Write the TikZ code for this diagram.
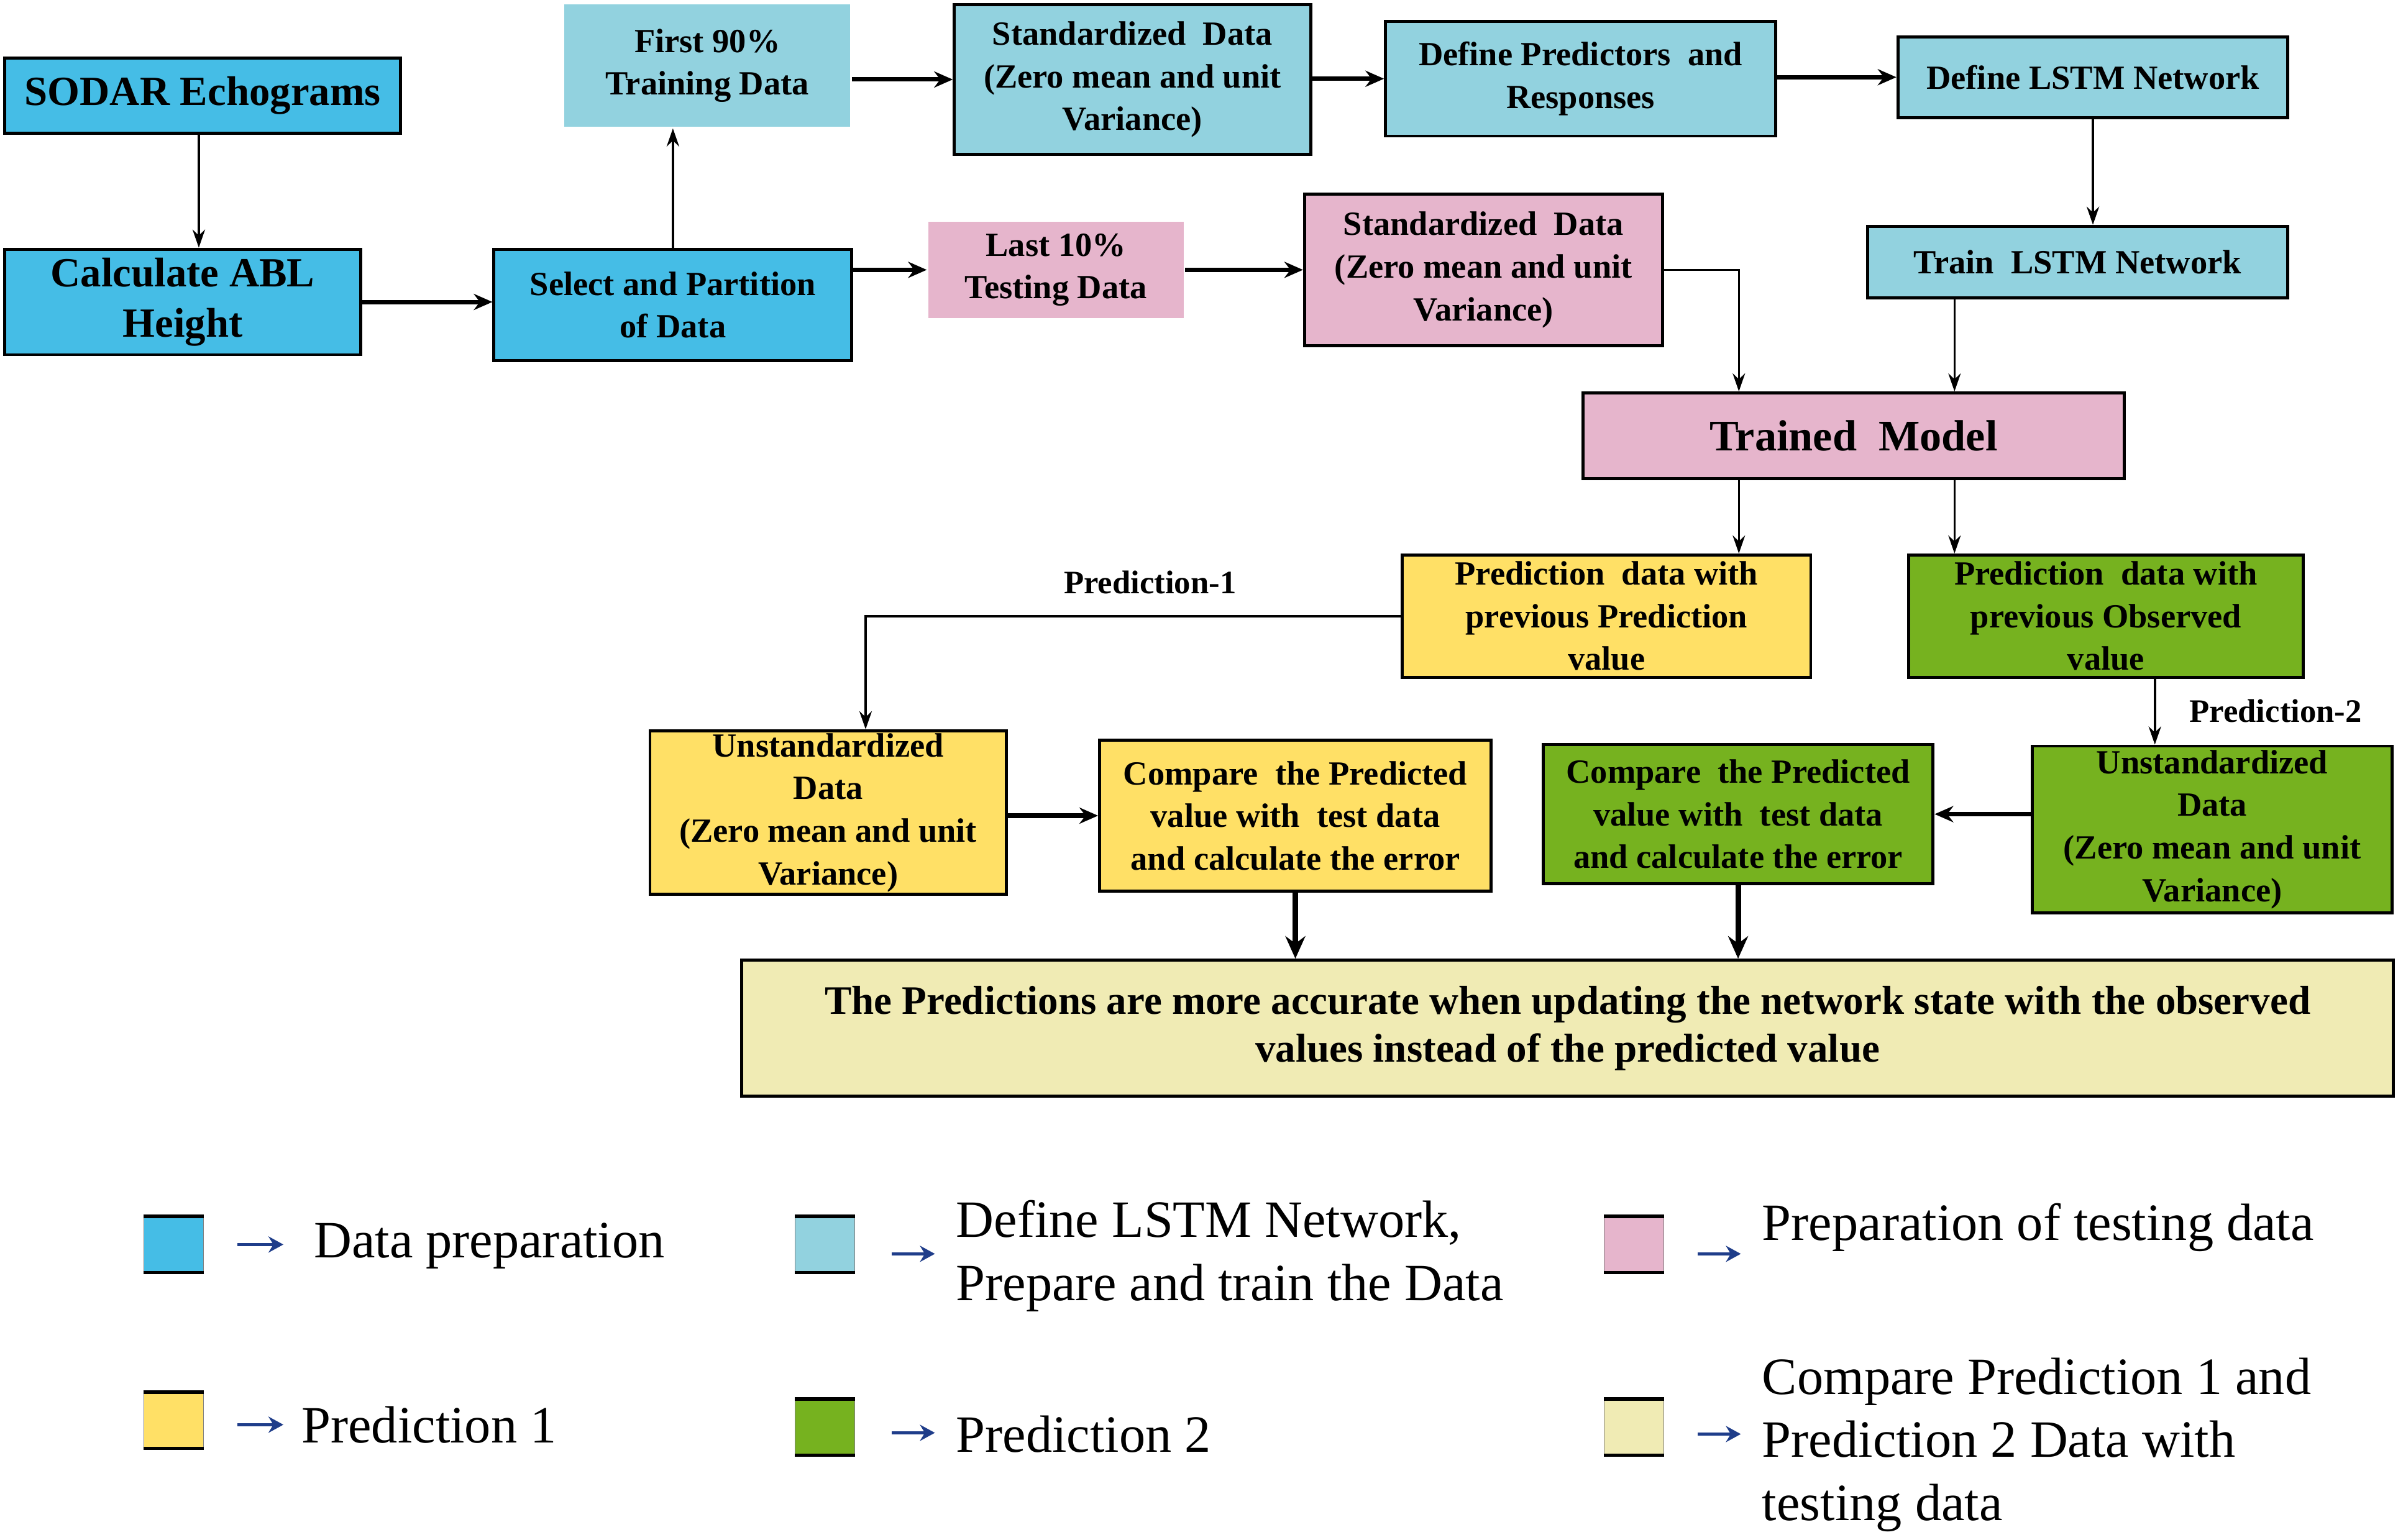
\documentclass[tikz,border=0pt]{standalone}
\usepackage{fontspec}
\setmainfont{Liberation Serif}
\usetikzlibrary{arrows.meta,calc}
\definecolor{cblue}{HTML}{45BDE6}
\definecolor{clblue}{HTML}{92D2DF}
\definecolor{cpink}{HTML}{E6B5CC}
\definecolor{cyel}{HTML}{FFE066}
\definecolor{cgreen}{HTML}{76B21F}
\definecolor{cfin}{HTML}{F0EBB4}
\definecolor{carr}{HTML}{1F3D8A}
\newcommand\bx[7]{\node[box,#6,minimum width={(#4-#2)*0.2461mm},minimum height={(#5-#3)*0.2461mm}] (#1) at ({(#2+#4)/2},{(#3+#5)/2}) {#7};}
\begin{document}
\begin{tikzpicture}[x=0.2461mm,y=-0.2461mm,
  box/.style={draw=black, line width=1.4pt, inner sep=0pt, align=center,
    font=\bfseries\fontsize{15.5}{19.5}\selectfont},
  nobox/.style={draw=none},
  big/.style={font=\bfseries\fontsize{19}{23}\selectfont},
  conn/.style={line width=1.2pt, -{Stealth[length=2.9mm,width=2mm]}},
  thickconn/.style={line width=2.6pt, -{Stealth[length=3.6mm,width=3.2mm]}},
  medconn/.style={line width=2pt, -{Stealth[length=3mm,width=2.6mm]}},
  lbl/.style={font=\bfseries\fontsize{15}{18}\selectfont, inner sep=0pt},
  swatch/.style={draw=gray, line width=0.4pt, minimum width=9.6mm, minimum height=8.9mm, inner sep=0pt},
  legarr/.style={draw=carr, line width=1.5pt, -{Stealth[length=2.4mm,width=2.6mm]}},
  legtxt/.style={anchor=west, inner sep=0pt, align=left, font=\fontsize{24}{29}\selectfont}
]
\useasboundingbox (0,0) rectangle (1568,1007);
\fill[white] (0,0) rectangle (1568,1007);

% boxes
\bx{sodar}{3}{38}{262}{87}{fill=cblue,big}{SODAR Echograms}
\bx{calc}{3}{163}{236}{232}{fill=cblue,big}{Calculate ABL\\Height}
\bx{select}{323}{163}{557}{236}{fill=cblue}{Select and Partition\\of Data}
\bx{first}{369}{3}{556}{83}{fill=clblue,nobox}{First 90\%\\Training Data}
\bx{stdb}{624}{3}{857}{101}{fill=clblue}{Standardized \ Data\\(Zero mean and unit\\Variance)}
\bx{defp}{906}{14}{1161}{89}{fill=clblue}{Define Predictors \ and\\Responses}
\bx{lstm}{1241}{24}{1496}{77}{fill=clblue}{Define LSTM Network}
\bx{train}{1221}{148}{1496}{195}{fill=clblue}{Train \ LSTM Network}
\bx{last}{607}{145}{774}{208}{fill=cpink,nobox}{Last 10\%\\Testing Data}
\bx{stdp}{853}{127}{1087}{226}{fill=cpink}{Standardized \ Data\\(Zero mean and unit\\Variance)}
\bx{trained}{1035}{257}{1389}{313}{fill=cpink,font=\bfseries\fontsize{20}{24}\selectfont}{Trained \ Model}
\bx{pred1}{917}{363}{1184}{443}{fill=cyel}{Prediction \ data with\\previous Prediction\\value}
\bx{pred2}{1248}{363}{1506}{443}{fill=cgreen}{Prediction \ data with\\previous Observed\\value}
\bx{unsy}{425}{478}{658}{585}{fill=cyel}{Unstandardized\\Data\\(Zero mean and unit\\Variance)}
\bx{cmpy}{719}{484}{975}{583}{fill=cyel}{Compare \ the Predicted\\value with \ test data\\and calculate the error}
\bx{cmpg}{1009}{487}{1264}{578}{fill=cgreen}{Compare \ the Predicted\\value with \ test data\\and calculate the error}
\bx{unsg}{1329}{488}{1564}{597}{fill=cgreen}{Unstandardized\\Data\\(Zero mean and unit\\Variance)}
\bx{final}{485}{628}{1565}{717}{fill=cfin,font=\bfseries\fontsize{18.5}{22}\selectfont}{The Predictions are more accurate when updating the network state with the observed\\values instead of the predicted value}

% labels
\node[lbl] (p1lab) at (752,381) {Prediction-1};
\node[lbl] (p2lab) at (1488,465) {Prediction-2};

% helper coordinates
\coordinate (sdS) at ($(sodar.south west)+(128,0)$);
\coordinate (tmA) at ($(trained.north west)+(103,0)$);
\coordinate (tmB) at ($(trained.north west)+(244,0)$);
\coordinate (tmC) at ($(trained.south west)+(103,0)$);
\coordinate (tmD) at ($(trained.south west)+(244,0)$);
\coordinate (uyN) at ($(unsy.north west)+(142,0)$);
\coordinate (p2S) at ($(pred2.south west)+(162,0)$);

% connectors
\draw[conn] (sdS) -- (sdS |- calc.north);
\draw[medconn] (calc.east) -- (calc.east -| select.west);
\draw[conn] (select.north) -- (select.north |- first.south);
\draw[medconn] (stdb.west -| first.east) -- (stdb.west);
\draw[medconn] (defp.west -| stdb.east) -- (defp.west);
\draw[medconn] (lstm.west -| defp.east) -- (lstm.west);
\draw[conn] (lstm.south) -- (lstm.south |- train.north);
\draw[medconn] (last.west -| select.east) -- (last.west);
\draw[medconn] (last.east) -- (last.east -| stdp.west);
\draw[conn, line width=0.9pt] (stdp.east) -| (tmA);
\draw[conn, line width=0.9pt] (tmB |- train.south) -- (tmB);
\draw[conn, line width=0.9pt] (tmC) -- (tmC |- pred1.north);
\draw[conn, line width=0.9pt] (tmD) -- (tmD |- pred2.north);
\draw[conn] (pred1.west) -| (uyN);
\draw[conn] (p2S) -- (p2S |- unsg.north);
\draw[medconn] (cmpy.west -| unsy.east) -- (cmpy.west);
\draw[medconn] (cmpg.east -| unsg.west) -- (cmpg.east);
\draw[thickconn] (cmpy.south) -- (cmpy.south |- final.north);
\draw[thickconn] (cmpg.south) -- (cmpg.south |- final.north);

% legend
\foreach \n/\c/\x/\y in {s1/cblue/113.5/814, s2/clblue/539.5/814, s3/cpink/1068.5/814,
                        s4/cyel/113.5/929, s5/cgreen/539.5/933.5, s6/cfin/1068.5/933.5} {
  \node[swatch, fill=\c] (\n) at (\x,\y) {};
  \draw[line width=1.6pt] (\n.north west) -- (\n.north east);
  \draw[line width=1.6pt] (\n.south west) -- (\n.south east);
}
\draw[legarr] ([xshift=5.4mm]s1.east) -- ++(7.4mm,0);
\draw[legarr] ([xshift=5.9mm,yshift=-1.5mm]s2.east) -- ++(6.9mm,0);
\draw[legarr] ([xshift=5.4mm,yshift=-1.5mm]s3.east) -- ++(6.9mm,0);
\draw[legarr] ([xshift=5.4mm,yshift=-0.7mm]s4.east) -- ++(7.4mm,0);
\draw[legarr] ([xshift=5.9mm,yshift=-0.9mm]s5.east) -- ++(6.9mm,0);
\draw[legarr] ([xshift=5.4mm,yshift=-1.1mm]s6.east) -- ++(6.9mm,0);

\node[legtxt] (t1) at (205,815) {Data preparation};
\node[legtxt] (t2) at (625,821.5) {Define LSTM Network,\\Prepare and train the Data};
\node[legtxt] (t3) at (1152,803) {Preparation of testing data};
\node[legtxt] (t4) at (197,932) {Prediction 1};
\node[legtxt] (t5) at (625,938) {Prediction 2};
\node[legtxt] (t6) at (1152,945) {Compare Prediction 1 and\\Prediction 2 Data with\\testing data};
\end{tikzpicture}
\end{document}
